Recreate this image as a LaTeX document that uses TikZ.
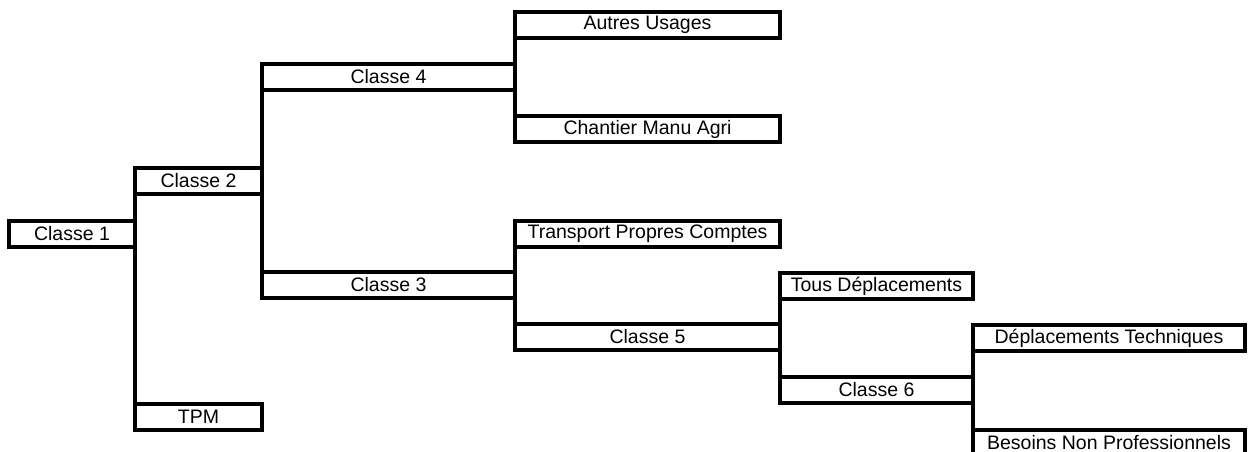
\documentclass[tikz,border=0pt]{standalone}
\usepackage{fontspec}
\setmainfont{Liberation Sans}
\tikzset{
box/.style={draw, line width=4pt, rectangle, anchor=west, inner sep=0pt, outer sep=0pt,
  minimum height=26pt, font=\fontsize{19.5}{22}\selectfont},
link/.style={line width=4pt}
}

\begin{document}
\begin{tikzpicture}[x=1pt,y=1pt,yscale=-1,xscale=1]
\useasboundingbox (0,0) rectangle (1250,452);

%Level 1
\node [box, minimum width=126pt] (c1) at (9,234) {Classe 1};
%Level 2
\node [box, minimum width=127pt] (c2) at (135,181) {Classe 2};
\node [box, minimum width=127pt] (tpm) at (135,417) {TPM};
%Level 3
\node [box, minimum width=253pt] (c4) at (262,77) {Classe 4};
\node [box, minimum width=253pt] (c3) at (262,285) {Classe 3};
%Level 4
\node [box, minimum width=265pt] (au) at (515,25) {Autres Usages};
\node [box, minimum width=265pt] (cma) at (515,129) {Chantier Manu Agri};
\node [box, minimum width=265pt] (tpc) at (515,234) {Transport Propres Comptes};
\node [box, minimum width=265pt] (c5) at (515,337) {Classe 5};
%Level 5
\node [box, minimum width=193pt] (td) at (780,286) {Tous Déplacements};
\node [box, minimum width=193pt] (c6) at (780,390) {Classe 6};
%Level 6
\node [box, minimum width=272pt] (dt) at (973,338) {Déplacements Techniques};
\node [box, minimum width=272pt] (bnp) at (973,443) {Besoins Non Professionnels};

%Splits
\draw [link] (c2.north west) -- (tpm.south west);
\draw [link] (c4.north west) -- (c3.south west);
\draw [link] (au.north west) -- (cma.south west);
\draw [link] (tpc.north west) -- (c5.south west);
\draw [link] (td.north west) -- (c6.south west);
\draw [link] (dt.north west) -- (bnp.south west);
\end{tikzpicture}
\end{document}
